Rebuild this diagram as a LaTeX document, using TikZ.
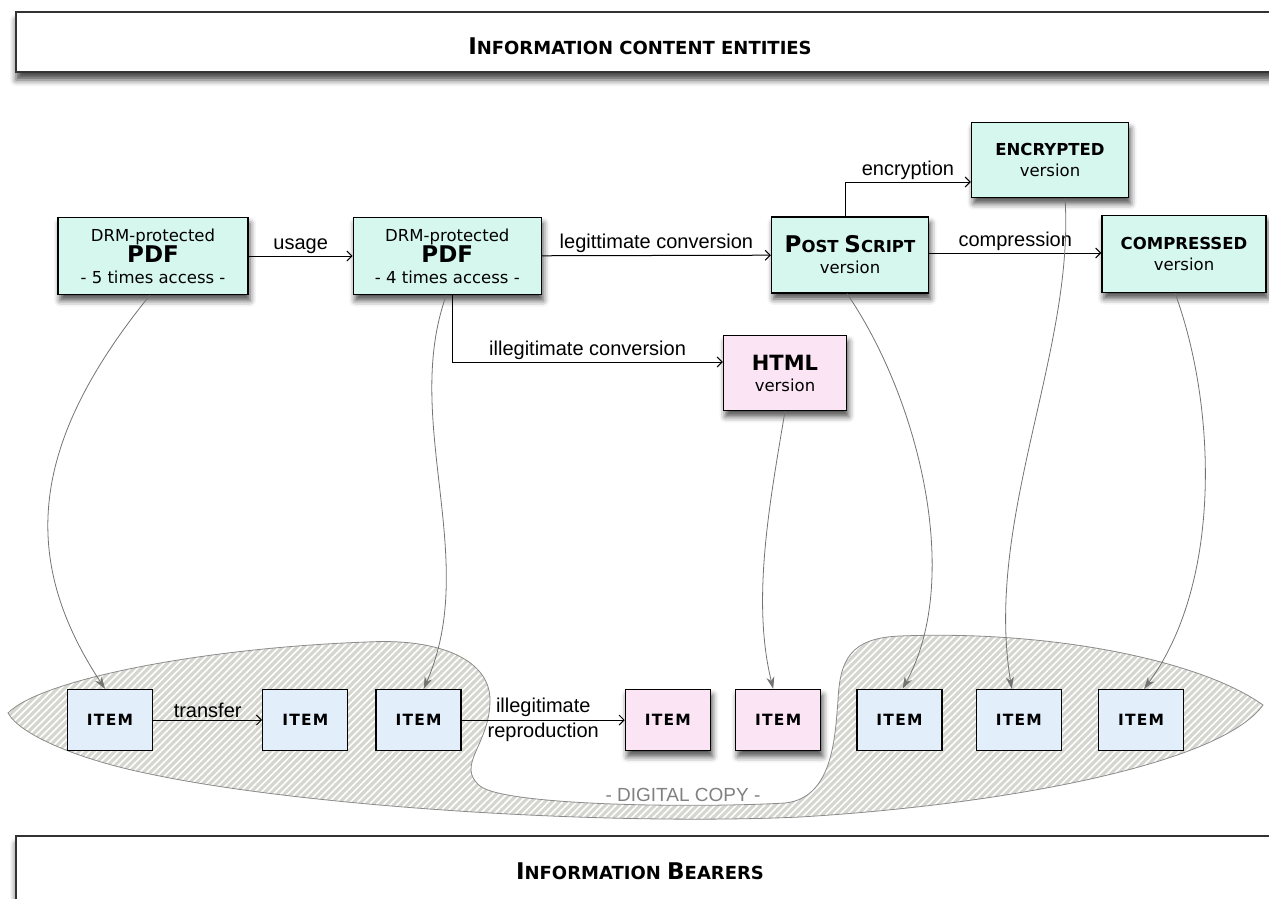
\documentclass[tikz,border=0pt]{standalone}
\usepackage{fontspec}
\setmainfont{DejaVu Sans}
\newfontfamily\labelfont{Liberation Sans}
\usetikzlibrary{arrows.meta, positioning, shadows.blur, patterns.meta}

\definecolor{mint}{HTML}{D6F7EE}
\definecolor{rose}{HTML}{FBE4F4}
\definecolor{pale}{HTML}{E3EEFB}
\definecolor{hatchgray}{HTML}{D6D6D0}

\newcommand{\bigc}[1]{{\fontsize{23}{23}\selectfont #1}}

\begin{document}
\begin{tikzpicture}[x=1pt, y=-1pt,
    >={Straight Barb[length=5pt,width=10pt]},
    boxshadow/.style={blur shadow={shadow xshift=2pt, shadow yshift=-6pt, shadow blur radius=6pt, shadow opacity=70}},
    entity/.style={draw, line width=1.3pt, fill=mint, align=center, boxshadow, inner sep=0pt, font=\fontsize{16.5}{21}\selectfont},
    illegal/.style={entity, fill=rose},
    item/.style={draw, line width=1.3pt, fill=pale, minimum width=85pt, minimum height=61pt, inner sep=0pt, font=\fontsize{15.5}{15.5}\selectfont\bfseries\addfontfeature{LetterSpace=8}},
    rogue/.style={item, fill=rose, boxshadow},
    flow/.style={->, line width=1pt},
    lbl/.style={font=\labelfont\fontsize{20}{22}\selectfont, inner sep=2pt},
    bears/.style={->, >={Stealth[length=12pt,width=8pt]}, draw=black!55, line width=0.8pt},
    banner/.style={draw=black!80, line width=1.8pt, fill=white, blur shadow={shadow xshift=0pt, shadow yshift=-8pt, shadow blur radius=6pt, shadow opacity=70}},
    headline/.style={font=\bfseries\fontsize{18}{18}\selectfont}]

  \useasboundingbox (0,0) rectangle (1269,898);

  % banners
  \path[banner] (16,12) rectangle (1300,72);
  \node[headline] (ice) at (640,46) {\bigc{I}NFORMATION CONTENT ENTITIES};
  \path[banner] (16,836) rectangle (1300,930);
  \node[headline] (ib) at (640,871) {\bigc{I}NFORMATION \bigc{B}EARERS};

  % digital copy region
  \path[preaction={fill=hatchgray}, pattern={Lines[angle=45,distance=5pt,line width=1.6pt]}, pattern color=white, draw=black!45, line width=0.8pt]
    (8,713) .. controls (40,680) and (200,648) .. (367,642)
    .. controls (440,638) and (490,660) .. (490,700)
    .. controls (490,745) and (455,765) .. (480,786)
    .. controls (505,806) and (700,808) .. (785,803)
    .. controls (832,798) and (835,740) .. (838,700)
    .. controls (840,660) and (850,638) .. (900,636)
    .. controls (1050,630) and (1200,660) .. (1263,705)
    .. controls (1220,765) and (1000,805) .. (800,817)
    .. controls (600,826) and (300,806) .. (150,774)
    .. controls (80,760) and (20,735) .. (8,713) -- cycle;
  \node[font=\labelfont\fontsize{19}{19}\selectfont, text=black!50] (dc) at (683,795) {- DIGITAL COPY -};

  % information content entities
  \node[entity, minimum width=190pt, minimum height=77pt] (pdf5) at (153,256)
    {DRM-protected\\{\bfseries\fontsize{23}{23}\selectfont PDF}\\- 5 times access -};
  \node[entity, minimum width=188pt, minimum height=77pt, right=104pt of pdf5] (pdf4)
    {DRM-protected\\{\bfseries\fontsize{23}{23}\selectfont PDF}\\- 4 times access -};
  \node[entity, minimum width=157pt, minimum height=76pt] (ps) at (850,255)
    {{\bfseries\fontsize{16.5}{16.5}\selectfont\bigc{P}OST \bigc{S}CRIPT}\\version};
  \node[entity, minimum width=157pt, minimum height=75pt] (enc) at (1050,160)
    {{\bfseries ENCRYPTED}\\version};
  \node[entity, minimum width=164pt, minimum height=77pt] (comp) at (1184,254)
    {{\bfseries COMPRESSED}\\version};
  \node[illegal, minimum width=123pt, minimum height=75pt] (html) at (785,373)
    {{\bfseries\fontsize{21}{21}\selectfont HTML}\\version};

  % information bearers
  \node[item] (it1) at (110,720) {ITEM};
  \node[item, right=109pt of it1] (it2) {ITEM};
  \node[item, right=27pt of it2] (it3) {ITEM};
  \node[rogue, right=163pt of it3] (it4) {ITEM};
  \node[rogue, right=24pt of it4] (it5) {ITEM};
  \node[item, right=35pt of it5] (it6) {ITEM};
  \node[item, right=33pt of it6] (it7) {ITEM};
  \node[item, right=36pt of it7] (it8) {ITEM};

  % relations between entities
  \draw[flow] (pdf5) -- node[lbl, above] {usage} (pdf4);
  \draw[flow] (pdf4) -- node[lbl, above] {legittimate conversion} (ps);
  \draw[flow] ([yshift=2pt]ps.east) -- node[lbl, above] {compression} ([yshift=2pt]ps.east -| comp.west);
  \draw[flow] ([xshift=-5pt]ps.north) |- node[lbl, above, pos=0.75] {encryption} ([yshift=-22pt]enc.west);
  \draw[flow] ([xshift=5pt]pdf4.south) |- node[lbl, above, pos=0.75] {illegitimate conversion} ([yshift=11pt]html.west);

  \draw[flow] (it1) -- node[lbl, above] {transfer} (it2);
  \draw[flow] (it3) -- node[lbl, align=center, font=\labelfont\fontsize{20}{25}\selectfont] {illegitimate\\reproduction} (it4);

  % bearing
  \draw[bears] ([xshift=-3pt]pdf5.south) .. controls +(-122,150) and +(-85,-129) .. ([xshift=-5pt]it1.north);
  \draw[bears] ([xshift=-1pt]pdf4.south) .. controls +(-45,125) and +(57,-129) .. ([xshift=5pt]it3.north);
  \draw[bears] (html.south) .. controls +(-15,90) and +(-22,-89) .. ([xshift=-5pt]it5.north);
  \draw[bears] ([xshift=-3pt]ps.south) .. controls +(73,107) and +(60,-109) .. ([xshift=3pt]it6.north);
  \draw[bears] ([xshift=15pt]enc.south) .. controls +(10,153) and +(-28,-169) .. ([xshift=-7pt]it7.north);
  \draw[bears] ([xshift=-9pt]comp.south) .. controls +(40,108) and +(80,-109) .. ([xshift=3pt]it8.north);
\end{tikzpicture}
\end{document}
